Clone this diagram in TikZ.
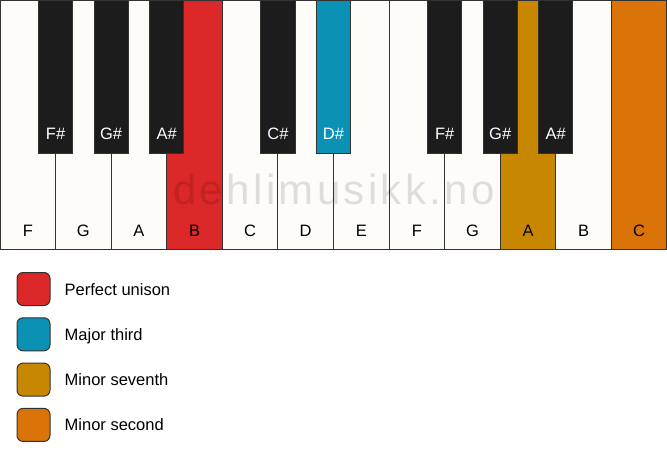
\documentclass[tikz,border=0pt]{standalone}
\usepackage{fontspec}
\setmainfont{Liberation Sans}
\usetikzlibrary{positioning}

\definecolor{keywhite}{RGB}{253,252,248}
\definecolor{keyblack}{RGB}{28,28,28}
\definecolor{edgegray}{RGB}{50,50,50}
\definecolor{unisonred}{RGB}{220,40,40}
\definecolor{thirdblue}{RGB}{10,145,180}
\definecolor{seventhgold}{RGB}{200,135,0}
\definecolor{secondorange}{RGB}{218,115,8}

\begin{document}
\begin{tikzpicture}[
    x=1pt, y=1pt,
    font=\fontsize{16.5}{20}\selectfont,
    whitekey/.style={rectangle, draw=edgegray, line width=1pt, fill=keywhite, outer sep=0pt, inner sep=0pt,
                     minimum width=55.58pt, minimum height=249pt,
                     label={[anchor=base, yshift=13pt]south:#1}},
    blackkey/.style={rectangle, draw=edgegray, line width=1pt, fill=keyblack, outer sep=0pt, inner sep=0pt,
                     minimum width=34.3pt, minimum height=153pt,
                     label={[anchor=base, yshift=14pt, text=white]south:#1}},
    swatch/.style={rectangle, rounded corners=6pt, draw=edgegray, line width=1pt, minimum size=33pt},
    legendtext/.style={inner sep=0pt, anchor=base west, yshift=-6pt}
]
    \useasboundingbox (0,0) rectangle (667,-461);

    % White keys
    \node (wF1) [whitekey=F, anchor=north west] at (0,0) {};
    \node (wG1) [whitekey=G, right=0pt of wF1] {};
    \node (wA1) [whitekey=A, right=0pt of wG1] {};
    \node (wB1) [whitekey=B, fill=unisonred, right=0pt of wA1] {};
    \node (wC2) [whitekey=C, right=0pt of wB1] {};
    \node (wD2) [whitekey=D, right=0pt of wC2] {};
    \node (wE2) [whitekey=E, right=0pt of wD2] {};
    \node (wF2) [whitekey=F, right=0pt of wE2] {};
    \node (wG2) [whitekey=G, right=0pt of wF2] {};
    \node (wA2) [whitekey=A, fill=seventhgold, right=0pt of wG2] {};
    \node (wB2) [whitekey=B, right=0pt of wA2] {};
    \node (wC3) [whitekey=C, fill=secondorange, right=0pt of wB2] {};

    % Black keys
    \node (bFs1) [blackkey=F\#, below=0pt of wF1.north east] {};
    \node (bGs1) [blackkey=G\#, below=0pt of wG1.north east] {};
    \node (bAs1) [blackkey=A\#, below=0pt of wA1.north east] {};
    \node (bCs2) [blackkey=C\#, below=0pt of wC2.north east] {};
    \node (bDs2) [blackkey=D\#, fill=thirdblue, below=0pt of wD2.north east] {};
    \node (bFs2) [blackkey=F\#, below=0pt of wF2.north east] {};
    \node (bGs2) [blackkey=G\#, below=0pt of wG2.north east] {};
    \node (bAs2) [blackkey=A\#, below=0pt of wA2.north east] {};

    % Watermark
    \node (mark) [anchor=base, text=black, opacity=0.12,
                  font=\fontsize{42}{46}\selectfont\addfontfeature{LetterSpace=8}] at (334,-204) {dehlimusikk.no};

    % Legend
    \node (swUnison) [swatch, fill=unisonred] at (33.5,-289) {};
    \node (txtUnison) [right=14pt of swUnison.east, legendtext] {Perfect unison};
    \node (swThird) [swatch, fill=thirdblue, below=11.3pt of swUnison] {};
    \node (txtThird) [right=14pt of swThird.east, legendtext] {Major third};
    \node (swSeventh) [swatch, fill=seventhgold, below=11.3pt of swThird] {};
    \node (txtSeventh) [right=14pt of swSeventh.east, legendtext] {Minor seventh};
    \node (swSecond) [swatch, fill=secondorange, below=11.3pt of swSeventh] {};
    \node (txtSecond) [right=14pt of swSecond.east, legendtext] {Minor second};

\end{tikzpicture}
\end{document}
